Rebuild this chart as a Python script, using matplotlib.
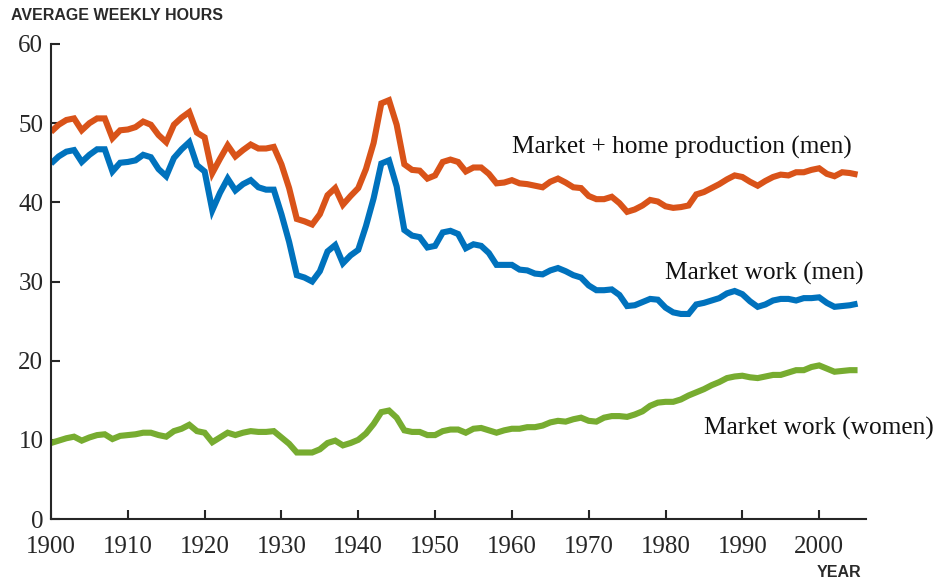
import matplotlib
matplotlib.use("Agg")
import matplotlib.pyplot as plt
import numpy as np

years = list(range(1900, 2006))

market_home_men = [
    48.9, 49.8, 50.4, 50.6, 49.1, 50.0, 50.6, 50.6, 48.1, 49.1,
    49.2, 49.5, 50.2, 49.8, 48.5, 47.6, 49.8, 50.7, 51.4, 48.8,
    48.2, 43.7, 45.5, 47.2, 45.8, 46.6, 47.3, 46.8, 46.8, 47.0,
    44.8, 41.8, 37.9, 37.6, 37.2, 38.5, 40.9, 41.8, 39.7, 40.8,
    41.8, 44.2, 47.5, 52.5, 52.9, 49.8, 44.8, 44.1, 44.0, 43.0,
    43.4, 45.1, 45.4, 45.1, 43.9, 44.4, 44.4, 43.6, 42.4, 42.5,
    42.8, 42.4, 42.3, 42.1, 41.9, 42.6, 43.0, 42.5, 41.9, 41.8,
    40.8, 40.4, 40.4, 40.7, 39.9, 38.8, 39.1, 39.6, 40.3, 40.1,
    39.5, 39.3, 39.4, 39.6, 41.0, 41.3, 41.8, 42.3, 42.9, 43.4,
    43.2, 42.6, 42.1, 42.7, 43.2, 43.5, 43.4, 43.8, 43.8, 44.1,
    44.3, 43.6, 43.3, 43.8, 43.7, 43.5,
]

market_men = [
    44.9, 45.8, 46.4, 46.6, 45.1, 46.0, 46.7, 46.7, 43.9, 45.0,
    45.1, 45.3, 46.0, 45.7, 44.2, 43.3, 45.6, 46.7, 47.6, 44.7,
    43.9, 39.0, 41.2, 43.0, 41.5, 42.3, 42.8, 41.9, 41.6, 41.6,
    38.5, 35.0, 30.8, 30.5, 30.0, 31.3, 33.8, 34.6, 32.3, 33.3,
    34.0, 37.0, 40.5, 44.9, 45.3, 42.0, 36.5, 35.8, 35.6, 34.3,
    34.5, 36.2, 36.4, 36.0, 34.2, 34.7, 34.5, 33.6, 32.1, 32.1,
    32.1, 31.5, 31.4, 31.0, 30.9, 31.4, 31.7, 31.3, 30.8, 30.5,
    29.5, 28.9, 28.9, 29.0, 28.3, 26.9, 27.0, 27.4, 27.8, 27.7,
    26.7, 26.1, 25.9, 25.9, 27.1, 27.3, 27.6, 27.9, 28.5, 28.8,
    28.4, 27.5, 26.8, 27.1, 27.6, 27.8, 27.8, 27.6, 27.9, 27.9,
    28.0, 27.3, 26.8, 26.9, 27.0, 27.2,
]

market_women = [
    9.6, 9.9, 10.2, 10.4, 9.9, 10.3, 10.6, 10.7, 10.1, 10.5,
    10.6, 10.7, 10.9, 10.9, 10.6, 10.4, 11.1, 11.4, 11.9, 11.1,
    10.9, 9.7, 10.3, 10.9, 10.6, 10.9, 11.1, 11.0, 11.0, 11.1,
    10.3, 9.5, 8.4, 8.4, 8.4, 8.8, 9.6, 9.9, 9.3, 9.6,
    10.0, 10.8, 12.0, 13.5, 13.7, 12.8, 11.2, 11.0, 11.0, 10.6,
    10.6, 11.1, 11.3, 11.3, 10.9, 11.4, 11.5, 11.2, 10.9, 11.2,
    11.4, 11.4, 11.6, 11.6, 11.8, 12.2, 12.4, 12.3, 12.6, 12.8,
    12.4, 12.3, 12.8, 13.0, 13.0, 12.9, 13.2, 13.6, 14.3, 14.7,
    14.8, 14.8, 15.1, 15.6, 16.0, 16.4, 16.9, 17.3, 17.8, 18.0,
    18.1, 17.9, 17.8, 18.0, 18.2, 18.2, 18.5, 18.8, 18.8, 19.2,
    19.4, 19.0, 18.6, 18.7, 18.8, 18.8,
]

labels = ["Market + home production (men)", "Market work (men)", "Market work (women)"]
x_ticks = [1900, 1910, 1920, 1930, 1940, 1950, 1960, 1970, 1980, 1990, 2000]
y_ticks = [0, 10, 20, 30, 40, 50, 60]

colors = ["#D95319", "#0072BD", "#77AC30"]
axis_col = "#262626"
serif = "Liberation Serif"

fig = plt.figure(figsize=(9.36, 5.8), dpi=100)
ax = fig.add_axes([51/936, 1 - 519/580, (866 - 51)/936, (519 - 44)/580])

for series, c in zip([market_home_men, market_men, market_women], colors):
    ax.plot(years, series, color=c, lw=4.4, solid_joinstyle="miter", solid_capstyle="butt")

ax.set_xlim(1900, 2006.1)
ax.set_ylim(0, 60)
ax.set_xticks(x_ticks)
ax.set_yticks(y_ticks)
for s in ["top", "right"]:
    ax.spines[s].set_visible(False)
for s in ["left", "bottom"]:
    ax.spines[s].set_color(axis_col)
    ax.spines[s].set_linewidth(1.5)
ax.tick_params(direction="in", length=6.5, width=1.5, color=axis_col,
               labelsize=18, labelcolor=axis_col)
ax.tick_params(axis="x", pad=12)
ax.tick_params(axis="y", pad=5.5)
for lab in ax.get_xticklabels() + ax.get_yticklabels():
    lab.set_fontfamily(serif)

text_pos = [(1960.0, 46.95), (1979.9, 31.05), (1985.0, 11.45)]
for lab, (tx, ty) in zip(labels, text_pos):
    ax.text(tx, ty, lab, fontsize=18.3, family=serif, color="#111111",
            ha="left", va="center", clip_on=False)

fig.text(11/936, 1 - 15.5/580, "AVERAGE WEEKLY HOURS", fontsize=11.5, fontweight="bold",
         family="Liberation Sans", color="#2a2a2a", ha="left", va="center")
fig.text(861/936, 1 - 572.5/580, "YEAR", fontsize=11.5, fontweight="bold",
         family="Liberation Sans", color="#2a2a2a", ha="right", va="center")

fig.savefig("out.png", dpi=100)
